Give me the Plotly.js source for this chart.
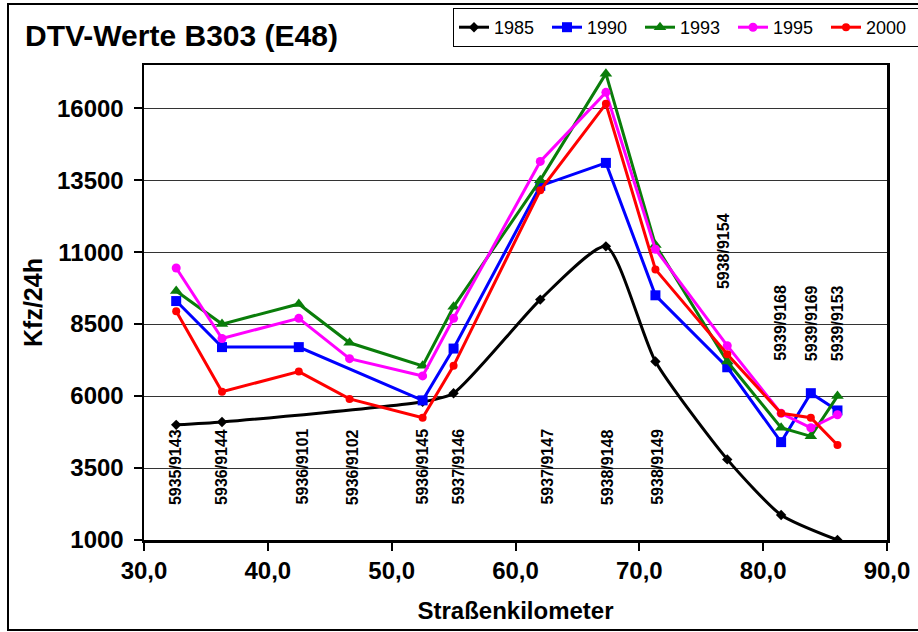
<!DOCTYPE html>
<html>
<head>
<meta charset="utf-8">
<script src="https://cdn.plot.ly/plotly-3.0.1.min.js"></script>
<style>html,body{margin:0;padding:0;background:#fff;}#chart{width:918px;height:632px;}</style>
</head>
<body>
<div id="chart"></div>
<script>
// Straßenkilometer of the counting stations
const km = [32.6, 36.3, 42.5, 46.6, 52.5, 55.0, 62.0, 67.3, 71.3, 77.1, 81.45, 83.85, 86.0];
// DTV values (Kfz/24h)
const v1985 = [5000, 5100, null, null, 5800, 6100, 9350, 11200, 7200, 3800, 1870, null, 1000];
const v1990 = [9300, 7700, 7700, null, 5850, 7650, 13300, 14100, 9500, 7000, 4400, 6100, 5500];
const v1993 = [9650, 8500, 9200, 7850, 7050, 9100, 13500, 17200, 11250, 7200, 4900, 4600, 6000];
const v1995 = [10450, 8000, 8700, 7300, 6700, 8700, 14150, 16550, 11100, 7750, 5400, 4900, 5350];
const v2000 = [8950, 6150, 6850, 5900, 5250, 7050, 13150, 16150, 10400, 7450, 5400, 5250, 4300];
const years = ['1985', '1990', '1993', '1995', '2000'];
// station labels
const stationLabels = ['5935/9143', '5936/9144', '5936/9101', '5936/9102', '5936/9145', '5937/9146',
  '5937/9147', '5938/9148', '5938/9149', '5938/9154', '5939/9168', '5939/9169', '5939/9153'];
const labelKm = [32.6, 36.3, 42.8, 46.9, 52.5, 55.4, 62.6, 67.5, 71.5, 76.8, 81.45, 83.9, 86.0];
const labelBase = [2150, 2150, 2150, 2150, 2150, 2150, 2150, 2150, 2150, 9630, 7160, 7160, 7160];
const yTicks = [1000, 3500, 6000, 8500, 11000, 13500, 16000];
const yTickText = ['1000', '3500', '6000', '8500', '11000', '13500', '16000'];
const xTicks = [30, 40, 50, 60, 70, 80, 90];
const xTickText = ['30,0', '40,0', '50,0', '60,0', '70,0', '80,0', '90,0'];

const F = 'Liberation Sans, Arial, sans-serif';
const styles = [
  {color: '#000000', symbol: 'diamond', size: 8, shape: 'spline'},
  {color: '#0000ff', symbol: 'square', size: 10, shape: 'linear'},
  {color: '#0a7d0a', symbol: 'triangle-up', size: 11, shape: 'linear'},
  {color: '#ff00ff', symbol: 'circle', size: 9, shape: 'linear'},
  {color: '#ff0000', symbol: 'circle', size: 8, shape: 'linear'}
];
const series = [v1985, v1990, v1993, v1995, v2000];
const traces = series.map((ys, i) => ({
  type: 'scatter', mode: 'lines+markers', name: years[i], x: km, y: ys,
  connectgaps: true,
  line: {color: styles[i].color, width: 3, shape: styles[i].shape, smoothing: 0.6},
  marker: {color: styles[i].color, symbol: styles[i].symbol, size: styles[i].size}
}));

const annotations = stationLabels.map((t, i) => ({
  x: labelKm[i], y: labelBase[i], xref: 'x', yref: 'y', text: t, showarrow: false,
  textangle: -90, xanchor: 'center', yanchor: 'bottom',
  font: {family: F, size: 16, color: '#000', weight: 'bold'}
}));

const layout = {
  width: 918, height: 632,
  margin: {l: 144, r: 31, t: 65, b: 92},
  paper_bgcolor: '#fff', plot_bgcolor: '#fff',
  font: {family: F, color: '#000'},
  title: {text: 'DTV-Werte B303 (E48)', x: 25/918, xanchor: 'left', xref: 'container',
          y: 1 - 35/632, yanchor: 'middle', yref: 'container',
          font: {family: F, size: 30, color: '#000', weight: 'bold'}},
  xaxis: {range: [30, 90], tickvals: xTicks, ticktext: xTickText,
          showgrid: false, zeroline: false,
          showline: true, linecolor: '#000', linewidth: 2.5, mirror: true,
          ticks: 'outside', ticklen: 8, tickwidth: 2, tickcolor: '#000',
          tickfont: {family: F, size: 24, weight: 'bold'},
          title: {text: 'Straßenkilometer', font: {family: F, size: 24, weight: 'bold'}, standoff: 19}},
  yaxis: {range: [1000, 17500], tickvals: yTicks, ticktext: yTickText,
          showgrid: true, gridcolor: '#333', gridwidth: 1, zeroline: false,
          showline: true, linecolor: '#000', linewidth: 2.5, mirror: true,
          ticks: 'outside', ticklen: 8, tickwidth: 2, tickcolor: '#000', ticklabelstandoff: 5,
          tickfont: {family: F, size: 24, weight: 'bold'},
          title: {text: 'Kfz/24h', font: {family: F, size: 25, weight: 'bold'}, standoff: 7}},
  legend: {orientation: 'h', xref: 'container', yref: 'container',
           x: 453/918, xanchor: 'left', y: 1 - 8/632, yanchor: 'top',
           bordercolor: '#000', borderwidth: 1, bgcolor: '#fff',
           font: {family: F, size: 18, color: '#000'},
           entrywidth: 48, entrywidthmode: 'pixels', tracegroupgap: 0},
  annotations: annotations,
  shapes: [{type: 'rect', xref: 'paper', yref: 'paper',
            x0: (8-144)/743, x1: (930-144)/743, y0: (540-630)/475, y1: (540-4)/475,
            line: {color: '#000', width: 2}, layer: 'below'}]
};

Plotly.newPlot('chart', traces, layout, {displayModeBar: false, staticPlot: true});
</script>
</body>
</html>
